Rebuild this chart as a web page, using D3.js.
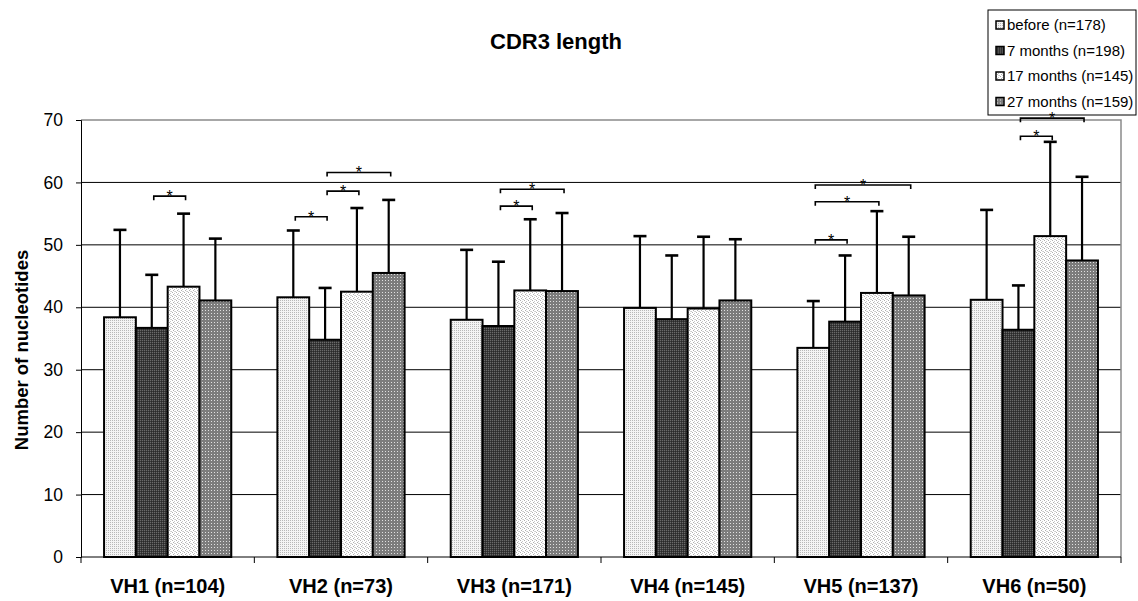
<!DOCTYPE html>
<html>
<head>
<meta charset="utf-8">
<script src="https://cdn.jsdelivr.net/npm/d3@7"></script>
<style>
  body { margin: 0; background: #fff; }
  text { font-family: Arial, "Liberation Sans", sans-serif; fill: #000; }
</style>
</head>
<body>
<div id="chart"></div>
<script>
// CDR3 length per VH family, grouped bars with SD error bars

const categories = ["VH1 (n=104)", "VH2 (n=73)", "VH3 (n=171)", "VH4 (n=145)", "VH5 (n=137)", "VH6 (n=50)"];
const seriesNames = ["before (n=178)", "7 months (n=198)", "17 months (n=145)", "27 months (n=159)"];

const meanBefore = [38.4, 41.6, 38.0, 39.9, 33.5, 41.2];
const mean7m = [36.7, 34.8, 37.0, 38.1, 37.7, 36.4];
const mean17m = [43.3, 42.5, 42.7, 39.8, 42.3, 51.4];
const mean27m = [41.1, 45.5, 42.6, 41.1, 41.9, 47.5];

const sdBefore = [14.0, 10.7, 11.2, 11.5, 7.5, 14.4];
const sd7m = [8.5, 8.3, 10.3, 10.2, 10.6, 7.1];
const sd17m = [11.7, 13.4, 11.4, 11.5, 13.1, 15.1];
const sd27m = [9.9, 11.7, 12.5, 9.8, 9.4, 13.4];

const yTicks = [0, 10, 20, 30, 40, 50, 60, 70];

// significance brackets: group, from series, to series, height
const sigGroup = [0, 1, 1, 1, 2, 2, 4, 4, 4, 5, 5];
const sigFrom = [1, 0, 1, 1, 1, 1, 0, 0, 0, 1, 1];
const sigTo = [2, 1, 2, 3, 2, 3, 1, 2, 3, 2, 3];
const sigLevel = [57.8, 54.5, 58.6, 61.6, 56.2, 58.9, 50.8, 56.9, 59.6, 67.4, 70.3];

const width = 1138, height = 601;
const margin = { top: 120, right: 17, bottom: 44, left: 81 };

const means = [meanBefore, mean7m, mean17m, mean27m];
const sds = [sdBefore, sd7m, sd17m, sd27m];
const data = [];
categories.forEach((c, i) => {
    seriesNames.forEach((s, j) => {
        data.push({ cat: c, series: j, mean: means[j][i], sd: sds[j][i] });
    });
});

const svg = d3.select("#chart").append("svg")
    .attr("width", width)
    .attr("height", height);

const defs = svg.append("defs");

// bar fill patterns
function makePattern(id, size, bg, dots) {
    const p = defs.append("pattern")
        .attr("id", id)
        .attr("patternUnits", "userSpaceOnUse")
        .attr("width", size)
        .attr("height", size);
    p.append("rect").attr("width", size).attr("height", size).attr("fill", bg);
    dots.forEach(d => {
        p.append("rect").attr("x", d[0]).attr("y", d[1]).attr("width", 1).attr("height", 1).attr("fill", d[2]);
    });
}
makePattern("pat0", 2, "#f4f4f4", [[0, 0, "#b8b8b8"]]);
makePattern("pat1", 2, "#3a3a3a", [[0, 0, "#6a6a6a"], [1, 1, "#2a2a2a"]]);
makePattern("pat2", 4, "#ffffff", [[0, 0, "#b0b0b0"], [2, 1, "#c8c8c8"], [1, 2, "#b0b0b0"], [3, 3, "#c8c8c8"], [2, 3, "#d8d8d8"]]);
makePattern("pat3", 3, "#7c7c7c", [[1, 1, "#e0e0e0"]]);
const fills = ["url(#pat0)", "url(#pat1)", "url(#pat2)", "url(#pat3)"];

const x0 = d3.scaleBand()
    .domain(categories)
    .range([margin.left, width - margin.right])
    .paddingInner(0)
    .paddingOuter(0);

const x1 = d3.scaleBand()
    .domain(d3.range(seriesNames.length))
    .range([0, x0.bandwidth()])
    .paddingInner(0)
    .paddingOuter(0.725);

const y = d3.scaleLinear()
    .domain([0, 70])
    .range([height - margin.bottom, margin.top]);

// gridlines
svg.append("g")
    .selectAll("line")
    .data(yTicks.filter(t => t > 0 && t < 70))
    .enter()
    .append("line")
    .attr("x1", margin.left)
    .attr("x2", width - margin.right)
    .attr("y1", d => y(d))
    .attr("y2", d => y(d))
    .attr("stroke", "#000")
    .attr("stroke-width", 1);

// plot border (top/right grey)
svg.append("path")
    .attr("d", `M${margin.left},${y(70)}H${width - margin.right}V${y(0)}`)
    .attr("fill", "none")
    .attr("stroke", "#8a8a8a")
    .attr("stroke-width", 1.5);

const gBars = svg.append("g");

gBars.selectAll("rect")
    .data(data)
    .enter()
    .append("rect")
    .attr("x", d => x0(d.cat) + x1(d.series))
    .attr("y", d => y(d.mean))
    .attr("width", x1.bandwidth())
    .attr("height", d => y(0) - y(d.mean))
    .attr("fill", d => fills[d.series])
    .attr("stroke", "#000")
    .attr("stroke-width", 2);

// error bars
const capW = 13;
const gErr = svg.append("g")
    .attr("stroke", "#000")
    .attr("stroke-width", 2.2);

gErr.selectAll(".err-v")
    .data(data)
    .enter()
    .append("line")
    .attr("x1", d => x0(d.cat) + x1(d.series) + x1.bandwidth() / 2)
    .attr("x2", d => x0(d.cat) + x1(d.series) + x1.bandwidth() / 2)
    .attr("y1", d => y(d.mean))
    .attr("y2", d => y(d.mean + d.sd));

gErr.selectAll(".err-cap")
    .data(data)
    .enter()
    .append("line")
    .attr("x1", d => x0(d.cat) + x1(d.series) + x1.bandwidth() / 2 - capW / 2)
    .attr("x2", d => x0(d.cat) + x1(d.series) + x1.bandwidth() / 2 + capW / 2)
    .attr("y1", d => y(d.mean + d.sd))
    .attr("y2", d => y(d.mean + d.sd))
    .attr("stroke-width", 2.6);

// axes
const yAxis = svg.append("g")
    .attr("transform", `translate(${margin.left},0)`)
    .call(d3.axisLeft(y).tickValues(yTicks).tickSize(5).tickPadding(13));
yAxis.select(".domain").attr("stroke", "#000");
yAxis.selectAll("text")
    .attr("font-size", 17.5)
    .attr("fill", "#000");

const xAxis = svg.append("g")
    .attr("transform", `translate(0,${y(0)})`);
xAxis.append("line")
    .attr("x1", margin.left)
    .attr("x2", width - margin.right)
    .attr("stroke", "#000");
xAxis.selectAll(".xtick")
    .data(categories.concat([null]))
    .enter()
    .append("line")
    .attr("x1", d => d ? x0(d) : x0.range()[1])
    .attr("x2", d => d ? x0(d) : x0.range()[1])
    .attr("y1", 0)
    .attr("y2", 6)
    .attr("stroke", "#000");
xAxis.selectAll(".xlabel")
    .data(categories)
    .enter()
    .append("text")
    .attr("x", d => x0(d) + x0.bandwidth() / 2)
    .attr("y", 36)
    .attr("text-anchor", "middle")
    .attr("font-size", 20)
    .attr("font-weight", "bold")
    .text(d => d);

// axis title
svg.append("text")
    .attr("transform", `translate(28,350) rotate(-90)`)
    .attr("text-anchor", "middle")
    .attr("font-size", 18.5)
    .attr("font-weight", "bold")
    .text("Number of nucleotides");

// chart title
svg.append("text")
    .attr("x", 556)
    .attr("y", 49)
    .attr("text-anchor", "middle")
    .attr("font-size", 22)
    .attr("font-weight", "bold")
    .text("CDR3 length");

// legend
const legend = svg.append("g")
    .attr("transform", "translate(988,10)");
legend.append("rect")
    .attr("width", 148)
    .attr("height", 105)
    .attr("fill", "#fff")
    .attr("stroke", "#000")
    .attr("stroke-width", 1);
const li = legend.selectAll(".li")
    .data(seriesNames)
    .enter()
    .append("g")
    .attr("transform", (d, i) => `translate(8,${15 + i * 25.5})`);
li.append("rect")
    .attr("x", 0)
    .attr("y", -4)
    .attr("width", 8)
    .attr("height", 8)
    .attr("fill", (d, i) => fills[i])
    .attr("stroke", "#000")
    .attr("stroke-width", 1.5);
li.append("text")
    .attr("x", 11)
    .attr("dy", "0.35em")
    .attr("font-size", 15)
    .text(d => d);

// significance brackets
const sig = sigGroup.map((g, i) => ({
    cat: categories[g], from: sigFrom[i], to: sigTo[i], level: sigLevel[i]
}));
const cx = (cat, s) => x0(cat) + x1(s) + x1.bandwidth() / 2 + 2;
const gSig = svg.append("g");
gSig.selectAll("path")
    .data(sig)
    .enter()
    .append("path")
    .attr("d", d => `M${cx(d.cat, d.from)},${y(d.level) + 4}V${y(d.level)}H${cx(d.cat, d.to)}V${y(d.level) + 4}`)
    .attr("fill", "none")
    .attr("stroke", "#000")
    .attr("stroke-width", 1.6);
gSig.selectAll("text")
    .data(sig)
    .enter()
    .append("text")
    .attr("x", d => (cx(d.cat, d.from) + cx(d.cat, d.to)) / 2)
    .attr("y", d => y(d.level) + 6)
    .attr("text-anchor", "middle")
    .attr("font-size", 16)
    .text("*");
</script>
</body>
</html>
